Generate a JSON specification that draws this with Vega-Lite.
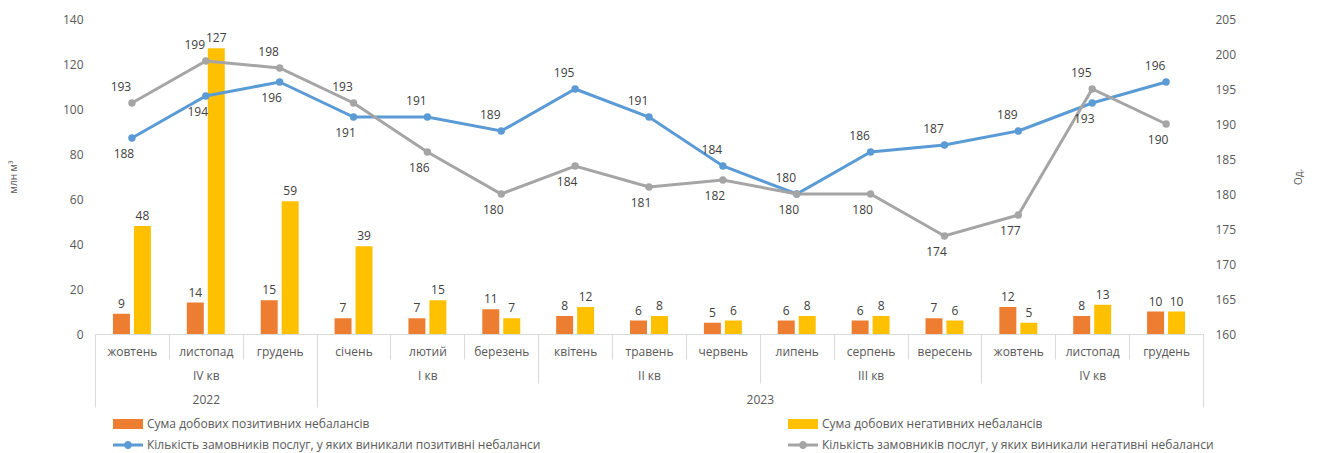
{
  "$schema": "https://vega.github.io/schema/vega-lite/v6.json",
  "width": 1108,
  "height": 315,
  "autosize": {"type": "none"},
  "padding": {"left": 95, "top": 19, "right": 118, "bottom": 119},
  "config": {
    "view": {"stroke": null},
    "font": "Open Sans",
    "axis": {"grid": false, "labelColor": "#595959", "titleColor": "#595959", "titleFontWeight": "normal"}
  },
  "datasets": {
    "bars": [
      {"m": "01|жовтень", "series": "Сума добових позитивних небалансів", "value": 9},
      {"m": "01|жовтень", "series": "Сума добових негативних небалансів", "value": 48},
      {"m": "02|листопад", "series": "Сума добових позитивних небалансів", "value": 14},
      {"m": "02|листопад", "series": "Сума добових негативних небалансів", "value": 127},
      {"m": "03|грудень", "series": "Сума добових позитивних небалансів", "value": 15},
      {"m": "03|грудень", "series": "Сума добових негативних небалансів", "value": 59},
      {"m": "04|січень", "series": "Сума добових позитивних небалансів", "value": 7},
      {"m": "04|січень", "series": "Сума добових негативних небалансів", "value": 39},
      {"m": "05|лютий", "series": "Сума добових позитивних небалансів", "value": 7},
      {"m": "05|лютий", "series": "Сума добових негативних небалансів", "value": 15},
      {"m": "06|березень", "series": "Сума добових позитивних небалансів", "value": 11},
      {"m": "06|березень", "series": "Сума добових негативних небалансів", "value": 7},
      {"m": "07|квітень", "series": "Сума добових позитивних небалансів", "value": 8},
      {"m": "07|квітень", "series": "Сума добових негативних небалансів", "value": 12},
      {"m": "08|травень", "series": "Сума добових позитивних небалансів", "value": 6},
      {"m": "08|травень", "series": "Сума добових негативних небалансів", "value": 8},
      {"m": "09|червень", "series": "Сума добових позитивних небалансів", "value": 5},
      {"m": "09|червень", "series": "Сума добових негативних небалансів", "value": 6},
      {"m": "10|липень", "series": "Сума добових позитивних небалансів", "value": 6},
      {"m": "10|липень", "series": "Сума добових негативних небалансів", "value": 8},
      {"m": "11|серпень", "series": "Сума добових позитивних небалансів", "value": 6},
      {"m": "11|серпень", "series": "Сума добових негативних небалансів", "value": 8},
      {"m": "12|вересень", "series": "Сума добових позитивних небалансів", "value": 7},
      {"m": "12|вересень", "series": "Сума добових негативних небалансів", "value": 6},
      {"m": "13|жовтень", "series": "Сума добових позитивних небалансів", "value": 12},
      {"m": "13|жовтень", "series": "Сума добових негативних небалансів", "value": 5},
      {"m": "14|листопад", "series": "Сума добових позитивних небалансів", "value": 8},
      {"m": "14|листопад", "series": "Сума добових негативних небалансів", "value": 13},
      {"m": "15|грудень", "series": "Сума добових позитивних небалансів", "value": 10},
      {"m": "15|грудень", "series": "Сума добових негативних небалансів", "value": 10}
    ],
    "lines": [
      {"m": "01|жовтень", "kind": "pos", "series": "Кількість замовників послуг, у яких виникали позитивні небаланси", "count": 188},
      {"m": "02|листопад", "kind": "pos", "series": "Кількість замовників послуг, у яких виникали позитивні небаланси", "count": 194},
      {"m": "03|грудень", "kind": "pos", "series": "Кількість замовників послуг, у яких виникали позитивні небаланси", "count": 196},
      {"m": "04|січень", "kind": "pos", "series": "Кількість замовників послуг, у яких виникали позитивні небаланси", "count": 191},
      {"m": "05|лютий", "kind": "pos", "series": "Кількість замовників послуг, у яких виникали позитивні небаланси", "count": 191},
      {"m": "06|березень", "kind": "pos", "series": "Кількість замовників послуг, у яких виникали позитивні небаланси", "count": 189},
      {"m": "07|квітень", "kind": "pos", "series": "Кількість замовників послуг, у яких виникали позитивні небаланси", "count": 195},
      {"m": "08|травень", "kind": "pos", "series": "Кількість замовників послуг, у яких виникали позитивні небаланси", "count": 191},
      {"m": "09|червень", "kind": "pos", "series": "Кількість замовників послуг, у яких виникали позитивні небаланси", "count": 184},
      {"m": "10|липень", "kind": "pos", "series": "Кількість замовників послуг, у яких виникали позитивні небаланси", "count": 180},
      {"m": "11|серпень", "kind": "pos", "series": "Кількість замовників послуг, у яких виникали позитивні небаланси", "count": 186},
      {"m": "12|вересень", "kind": "pos", "series": "Кількість замовників послуг, у яких виникали позитивні небаланси", "count": 187},
      {"m": "13|жовтень", "kind": "pos", "series": "Кількість замовників послуг, у яких виникали позитивні небаланси", "count": 189},
      {"m": "14|листопад", "kind": "pos", "series": "Кількість замовників послуг, у яких виникали позитивні небаланси", "count": 193},
      {"m": "15|грудень", "kind": "pos", "series": "Кількість замовників послуг, у яких виникали позитивні небаланси", "count": 196},
      {"m": "01|жовтень", "kind": "neg", "series": "Кількість замовників послуг, у яких виникали негативні небаланси", "count": 193},
      {"m": "02|листопад", "kind": "neg", "series": "Кількість замовників послуг, у яких виникали негативні небаланси", "count": 199},
      {"m": "03|грудень", "kind": "neg", "series": "Кількість замовників послуг, у яких виникали негативні небаланси", "count": 198},
      {"m": "04|січень", "kind": "neg", "series": "Кількість замовників послуг, у яких виникали негативні небаланси", "count": 193},
      {"m": "05|лютий", "kind": "neg", "series": "Кількість замовників послуг, у яких виникали негативні небаланси", "count": 186},
      {"m": "06|березень", "kind": "neg", "series": "Кількість замовників послуг, у яких виникали негативні небаланси", "count": 180},
      {"m": "07|квітень", "kind": "neg", "series": "Кількість замовників послуг, у яких виникали негативні небаланси", "count": 184},
      {"m": "08|травень", "kind": "neg", "series": "Кількість замовників послуг, у яких виникали негативні небаланси", "count": 181},
      {"m": "09|червень", "kind": "neg", "series": "Кількість замовників послуг, у яких виникали негативні небаланси", "count": 182},
      {"m": "10|липень", "kind": "neg", "series": "Кількість замовників послуг, у яких виникали негативні небаланси", "count": 180},
      {"m": "11|серпень", "kind": "neg", "series": "Кількість замовників послуг, у яких виникали негативні небаланси", "count": 180},
      {"m": "12|вересень", "kind": "neg", "series": "Кількість замовників послуг, у яких виникали негативні небаланси", "count": 174},
      {"m": "13|жовтень", "kind": "neg", "series": "Кількість замовників послуг, у яких виникали негативні небаланси", "count": 177},
      {"m": "14|листопад", "kind": "neg", "series": "Кількість замовників послуг, у яких виникали негативні небаланси", "count": 195},
      {"m": "15|грудень", "kind": "neg", "series": "Кількість замовників послуг, у яких виникали негативні небаланси", "count": 190}
    ],
    "quarters": [
      {"q": "1|IV кв"},
      {"q": "2|I кв"},
      {"q": "3|II кв"},
      {"q": "4|III кв"},
      {"q": "5|IV кв"}
    ],
    "years": [
      {"year": "2022", "start": 0, "end": 3},
      {"year": "2023", "start": 3, "end": 15}
    ]
  },
  "layer": [
    {
      "data": {"name": "bars"},
      "encoding": {
        "x": {
          "field": "m", "type": "nominal",
          "scale": {"paddingInner": 0, "paddingOuter": 0},
          "axis": {
            "orient": "bottom", "title": null,
            "labelExpr": "split(datum.value, '|')[1]",
            "labelAngle": 0, "labelBaseline": "middle", "labelPadding": -8,
            "labelFontSize": 12,
            "tickBand": "extent", "tickSize": 25, "tickColor": "#d9d9d9",
            "domainColor": "#d9d9d9"
          }
        },
        "xOffset": {
          "field": "series", "type": "nominal",
          "sort": ["Сума добових позитивних небалансів", "Сума добових негативних небалансів"],
          "scale": {"paddingInner": 0.19, "paddingOuter": 0.857}
        },
        "y": {
          "field": "value", "type": "quantitative",
          "scale": {"domain": [0, 140], "nice": false},
          "axis": {
            "orient": "left", "values": [0, 20, 40, 60, 80, 100, 120, 140],
            "domain": false, "ticks": false, "labelPadding": 12, "labelFontSize": 12,
            "title": "млн м³", "titleFontSize": 10, "titlePadding": 44
          }
        }
      },
      "layer": [
        {
          "mark": {"type": "bar"},
          "encoding": {
            "color": {
              "field": "series", "type": "nominal",
              "scale": {
                "domain": [
                  "Сума добових позитивних небалансів",
                  "Сума добових негативних небалансів",
                  "Кількість замовників послуг, у яких виникали позитивні небаланси",
                  "Кількість замовників послуг, у яких виникали негативні небаланси"
                ],
                "range": ["#ED7D31", "#FFC000", "#5B9BD5", "#A5A5A5"]
              },
              "legend": {
                "orient": "none", "legendX": 23, "legendY": 395,
                "direction": "horizontal",
                "columns": 2, "title": null, "padding": 0,
                "symbolSize": 400, "labelFontSize": 12, "labelColor": "#595959",
                "labelOffset": 9, "rowPadding": 5, "columnPadding": 247, "labelLimit": 600,
                "encode": {
                  "symbols": {
                    "update": {
                      "shape": {"signal": "indexof(datum.value, 'Сума') == 0 ? 'M-1.5,-0.5H1.5V0.5H-1.5Z' : 'M-1.5,-0.15H1.5V0.15H-1.5ZM0.4,0A0.4,0.4,0,1,1,-0.4,0A0.4,0.4,0,1,1,0.4,0Z'"},
                      "fill": {"scale": "color", "field": "value"},
                      "fillOpacity": {"value": 1},
                      "opacity": {"value": 1},
                      "strokeWidth": {"value": 0}
                    }
                  }
                }
              }
            }
          }
        },
        {
          "mark": {"type": "text", "baseline": "alphabetic", "dy": -6, "fontSize": 12, "color": "#404040"},
          "encoding": {"text": {"field": "value", "type": "quantitative"}}
        }
      ]
    },
    {
      "data": {"name": "lines"},
      "transform": [
        {"joinaggregate": [{"op": "min", "field": "count", "as": "minc"}, {"op": "max", "field": "count", "as": "maxc"}], "groupby": ["m"]}
      ],
      "encoding": {
        "x": {"field": "m", "type": "nominal", "scale": {"paddingInner": 0, "paddingOuter": 0}, "axis": null},
        "y": {
          "field": "count", "type": "quantitative",
          "scale": {"domain": [160, 205], "nice": false, "zero": false},
          "axis": {
            "orient": "right", "values": [160, 165, 170, 175, 180, 185, 190, 195, 200, 205],
            "domain": false, "ticks": false, "labelPadding": 12, "labelFontSize": 12,
            "title": "Од.", "titleFontSize": 10, "titleAngle": 270, "titleBaseline": "top", "titlePadding": 58
          }
        }
      },
      "layer": [
        {
          "mark": {"type": "line", "strokeWidth": 3, "point": {"filled": true, "size": 55, "opacity": 1}},
          "encoding": {"color": {"field": "series", "type": "nominal"}}
        },
        {
          "transform": [{"filter": "datum.count > datum.minc || (datum.minc == datum.maxc && datum.kind == 'pos')"}],
          "mark": {"type": "text", "baseline": "middle", "dy": -16, "dx": -11, "fontSize": 12, "color": "#404040"},
          "encoding": {"text": {"field": "count", "type": "quantitative"}}
        },
        {
          "transform": [{"filter": "!(datum.count > datum.minc || (datum.minc == datum.maxc && datum.kind == 'pos'))"}],
          "mark": {"type": "text", "baseline": "middle", "dy": 16, "dx": -8, "fontSize": 12, "color": "#404040"},
          "encoding": {"text": {"field": "count", "type": "quantitative"}}
        }
      ]
    },
    {
      "data": {"name": "quarters"},
      "mark": {"type": "rule", "opacity": 0},
      "encoding": {
        "x": {
          "field": "q", "type": "nominal",
          "scale": {"paddingInner": 0, "paddingOuter": 0},
          "axis": {
            "orient": "bottom", "title": null,
            "labelExpr": "split(datum.value, '|')[1]",
            "labelAngle": 0, "labelBaseline": "middle", "labelPadding": -8, "labelFontSize": 12,
            "tickBand": "extent", "tickSize": 49, "tickColor": "#d9d9d9", "domain": false
          }
        }
      }
    },
    {
      "data": {"name": "years"},
      "mark": {"type": "rule", "opacity": 0},
      "encoding": {
        "x": {
          "field": "start", "type": "quantitative",
          "scale": {"domain": [0, 15], "nice": false, "zero": false},
          "axis": {
            "orient": "bottom", "title": null,
            "values": [0, 1.5, 3, 9, 15],
            "labelExpr": "datum.value == 1.5 ? '2022' : datum.value == 9 ? '2023' : ''",
            "labelAngle": 0, "labelBaseline": "middle", "labelPadding": -8, "labelFontSize": 12,
            "labelFlush": false, "labelOverlap": false,
            "tickSize": 73,
            "tickColor": {"condition": {"test": "datum.value == 1.5 || datum.value == 9", "value": "transparent"}, "value": "#d9d9d9"},
            "domain": false
          }
        },
        "x2": {"field": "end"}
      }
    }
  ],
  "resolve": {"scale": {"x": "independent", "y": "independent"}}
}
